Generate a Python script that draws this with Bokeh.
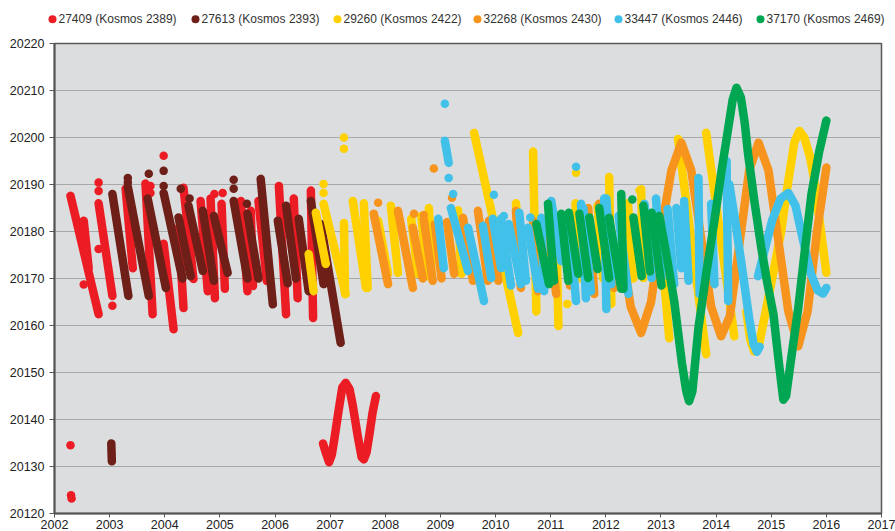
from bokeh.plotting import figure
from bokeh.layouts import column, row
from bokeh.models import Range1d, FixedTicker, ColumnDataSource
from bokeh.core.properties import value
from bokeh.embed import file_html
from bokeh.resources import INLINE

# ---------------- data ----------------
LABELS = ["27409 (Kosmos 2389)", "27613 (Kosmos 2393)", "29260 (Kosmos 2422)",
          "32268 (Kosmos 2430)", "33447 (Kosmos 2446)", "37170 (Kosmos 2469)"]
COLORS = ["#ec1c24", "#6d1f18", "#ffd100", "#f7941d", "#41c1e9", "#00a651"]

X_TICKS = list(range(2002, 2018))
Y_TICKS = list(range(20120, 20221, 10))

# streaks: (year start, value start, year end, value end)
red_streaks = [
    (2002.29, 20187.6, 2002.80, 20162.4), (2002.53, 20182.3, 2002.62, 20172.2),
    (2002.80, 20186.0, 2003.05, 20166.3), (2003.29, 20189.1, 2003.42, 20172.2),
    (2003.65, 20190.2, 2003.78, 20162.4), (2003.98, 20177.4, 2004.16, 20159.2),
    (2004.25, 20180.8, 2004.34, 20163.7), (2004.34, 20189.3, 2004.52, 20169.9),
    (2004.65, 20186.5, 2004.78, 20167.3), (2004.83, 20187.0, 2004.91, 20165.8),
    (2005.03, 20185.9, 2005.09, 20167.8), (2005.38, 20186.5, 2005.50, 20167.3),
    (2005.56, 20184.4, 2005.60, 20168.4), (2005.70, 20186.5, 2005.85, 20169.5),
    (2006.07, 20189.7, 2006.20, 20162.4), (2006.34, 20187.0, 2006.41, 20165.8),
    (2006.65, 20188.7, 2006.69, 20161.6),
]
red_wave_t = [2006.87, 2006.92, 2006.98, 2007.03, 2007.07, 2007.16, 2007.22, 2007.28, 2007.35,
              2007.41, 2007.50, 2007.57, 2007.61, 2007.66, 2007.72, 2007.77, 2007.83]
red_wave_v = [20134.9, 20133.0, 20130.9, 20132.5, 20135.4, 20142.4, 20146.8, 20147.8, 20146.5,
              20143.0, 20136.5, 20132.0, 20131.5, 20133.0, 20137.5, 20141.5, 20145.0]
red_dots_t = [2002.29, 2002.30, 2002.31, 2002.53, 2002.80, 2002.80, 2002.80, 2003.05,
              2003.74, 2003.74, 2003.98, 2005.05, 2004.90]
red_dots_v = [20134.5, 20123.9, 20123.2, 20168.7, 20190.4, 20188.6, 20176.3, 20164.2,
              20189.7, 20188.2, 20196.1, 20188.2, 20188.0]

brown_streaks = [
    (2003.05, 20188.0, 2003.34, 20166.3), (2003.33, 20189.5, 2003.71, 20166.3),
    (2003.69, 20187.0, 2004.02, 20168.0), (2003.98, 20188.2, 2004.32, 20170.0),
    (2004.25, 20183.0, 2004.47, 20170.5), (2004.43, 20185.5, 2004.69, 20171.6),
    (2004.69, 20184.4, 2004.89, 20169.5), (2004.89, 20183.3, 2005.14, 20171.2),
    (2005.25, 20186.5, 2005.50, 20170.0), (2005.50, 20183.8, 2005.70, 20170.0),
    (2005.74, 20191.2, 2005.96, 20164.5), (2006.05, 20182.3, 2006.23, 20169.0),
    (2006.20, 20185.5, 2006.38, 20170.0), (2006.43, 20182.7, 2006.61, 20167.3),
    (2006.65, 20186.5, 2006.88, 20168.8), (2006.83, 20181.6, 2007.19, 20156.3),
    (2003.03, 20134.9, 2003.04, 20131.1),
]
brown_dots_t = [2003.33, 2003.33, 2003.71, 2003.98, 2003.98, 2004.29, 2004.45, 2005.25, 2005.25, 2005.49]
brown_dots_v = [20191.4, 20190.4, 20192.3, 20192.9, 20189.7, 20189.1, 20187.0, 20191.0, 20189.1, 20185.9]

yellow_streaks = [
    (2006.61, 20175.2, 2006.70, 20167.3), (2006.74, 20184.0, 2006.92, 20173.1),
    (2006.88, 20185.9, 2007.28, 20166.7), (2007.25, 20181.8, 2007.27, 20166.7),
    (2007.41, 20186.5, 2007.65, 20168.0), (2007.61, 20186.0, 2007.68, 20168.0),
    (2007.87, 20182.3, 2008.05, 20171.0), (2008.10, 20185.5, 2008.23, 20171.2),
    (2008.47, 20182.7, 2008.59, 20171.0), (2008.65, 20183.3, 2008.77, 20170.5),
    (2008.79, 20185.0, 2008.84, 20170.1), (2009.32, 20184.5, 2009.38, 20171.0),
    (2009.61, 20201.0, 2010.41, 20158.4), (2010.37, 20186.0, 2010.46, 20172.0),
    (2010.68, 20197.0, 2010.74, 20163.0), (2011.10, 20180.8, 2011.14, 20159.9),
    (2011.45, 20186.0, 2011.55, 20170.0), (2011.85, 20185.5, 2011.95, 20170.0),
    (2012.06, 20191.6, 2012.10, 20164.6), (2012.40, 20186.0, 2012.50, 20170.0),
    (2012.64, 20189.0, 2012.68, 20170.1), (2013.04, 20172.0, 2013.15, 20157.3),
    (2013.31, 20199.7, 2013.82, 20153.9), (2013.82, 20201.0, 2014.33, 20157.7),
]
yellow_wave_t = [2014.55, 2014.62, 2014.69, 2014.78, 2014.90, 2015.05, 2015.18, 2015.30,
                 2015.42, 2015.51, 2015.60, 2015.70, 2015.78, 2015.88, 2016.00]
yellow_wave_v = [20163.0, 20157.0, 20154.5, 20156.0, 20163.0, 20172.0, 20180.0, 20190.0,
                 20199.0, 20201.4, 20200.0, 20196.0, 20191.0, 20182.0, 20171.2]
yellow_dots_t = [2007.25, 2007.25, 2006.88, 2006.88, 2011.30, 2011.46, 2012.61]
yellow_dots_v = [20200.0, 20197.6, 20190.1, 20188.2, 20164.6, 20192.5, 20188.7]

orange_streaks = [
    (2007.79, 20183.8, 2008.05, 20168.8), (2008.23, 20184.4, 2008.50, 20168.0),
    (2008.50, 20180.8, 2008.68, 20170.0), (2008.70, 20182.5, 2008.86, 20169.5),
    (2008.90, 20181.5, 2009.02, 20170.0), (2009.12, 20182.0, 2009.25, 20171.0),
    (2009.41, 20182.9, 2009.59, 20169.5), (2009.68, 20184.4, 2009.86, 20169.5),
    (2009.88, 20182.3, 2010.05, 20169.5), (2010.37, 20184.4, 2010.46, 20168.0),
    (2010.68, 20182.3, 2010.77, 20167.3), (2010.95, 20180.8, 2011.10, 20166.7),
    (2011.25, 20183.0, 2011.35, 20168.5), (2011.68, 20185.0, 2011.79, 20166.7),
    (2011.88, 20185.9, 2012.00, 20177.4), (2012.05, 20183.5, 2012.15, 20168.0),
]
orange_wave_t = [2012.30, 2012.45, 2012.64, 2012.82, 2013.00, 2013.19, 2013.37, 2013.55, 2013.73,
                 2013.91, 2014.09, 2014.25, 2014.43, 2014.60, 2014.77, 2014.95, 2015.13, 2015.31,
                 2015.49, 2015.66, 2015.83, 2016.00]
orange_wave_v = [20176.0, 20164.0, 20158.4, 20165.0, 20180.0, 20193.0, 20198.9, 20193.0, 20178.5,
                 20164.0, 20157.7, 20162.0, 20178.0, 20193.0, 20198.9, 20193.0, 20178.0, 20163.0,
                 20155.6, 20163.0, 20180.0, 20193.6]
orange_dots_t = [2007.87, 2008.52, 2008.70, 2008.88, 2009.21]
orange_dots_v = [20186.1, 20183.8, 20183.5, 20193.4, 20187.2]

cyan_streaks = [
    (2009.08, 20199.3, 2009.15, 20194.6), (2008.96, 20182.7, 2009.06, 20172.2),
    (2009.19, 20185.0, 2009.50, 20171.6), (2009.50, 20180.8, 2009.79, 20165.2),
    (2009.77, 20181.2, 2009.92, 20170.1), (2009.95, 20182.7, 2010.10, 20172.2),
    (2010.10, 20182.7, 2010.28, 20168.5), (2010.24, 20181.6, 2010.46, 20168.8),
    (2010.43, 20184.0, 2010.55, 20169.5), (2010.59, 20180.8, 2010.77, 20167.8),
    (2010.83, 20182.9, 2010.88, 20167.3), (2011.01, 20186.5, 2011.19, 20173.7),
    (2011.32, 20183.8, 2011.46, 20165.2), (2011.55, 20185.9, 2011.64, 20165.8),
    (2011.59, 20185.0, 2011.73, 20167.3), (2011.97, 20187.0, 2012.01, 20163.5),
    (2012.01, 20187.0, 2012.10, 20168.8), (2012.23, 20183.3, 2012.41, 20166.7),
    (2012.70, 20185.9, 2012.83, 20170.1), (2012.91, 20187.0, 2013.01, 20170.1),
    (2013.12, 20184.8, 2013.24, 20168.8), (2013.28, 20185.0, 2013.37, 20172.2),
    (2013.42, 20186.5, 2013.50, 20169.5), (2013.68, 20191.4, 2013.70, 20166.7),
    (2013.91, 20185.9, 2013.97, 20168.8), (2014.19, 20195.0, 2014.22, 20165.2),
]
cyan_wave1_t = [2014.24, 2014.35, 2014.48, 2014.60, 2014.68, 2014.74, 2014.79]
cyan_wave1_v = [20190.0, 20182.0, 20171.5, 20161.5, 20156.0, 20154.4, 20155.5]
cyan_wave2_t = [2014.76, 2014.88, 2015.02, 2015.17, 2015.31, 2015.44, 2015.58, 2015.72,
                2015.84, 2015.94, 2016.00]
cyan_wave2_v = [20170.5, 20176.0, 20182.5, 20187.0, 20188.2, 20185.5, 20178.0, 20171.0,
                20167.5, 20166.8, 20168.0]
cyan_dots_t = [2009.08, 2009.15, 2009.23, 2009.97, 2010.15, 2010.63, 2011.46]
cyan_dots_v = [20207.2, 20191.4, 20188.0, 20187.8, 20183.3, 20183.0, 20193.8]

green_streaks = [
    (2010.74, 20181.6, 2010.97, 20168.8), (2010.95, 20185.9, 2011.06, 20169.5),
    (2011.19, 20183.8, 2011.32, 20169.5), (2011.33, 20184.0, 2011.50, 20171.0),
    (2011.52, 20183.8, 2011.68, 20170.1), (2011.70, 20183.0, 2011.85, 20172.0),
    (2011.88, 20185.0, 2012.06, 20170.1), (2012.06, 20182.9, 2012.28, 20167.8),
    (2012.28, 20188.0, 2012.32, 20167.8), (2012.50, 20183.0, 2012.65, 20170.5),
    (2012.68, 20185.5, 2012.80, 20171.5), (2012.83, 20184.0, 2013.01, 20168.5),
]
green_wave_t = [2012.97, 2013.10, 2013.24, 2013.38, 2013.46, 2013.51, 2013.57, 2013.68, 2013.82,
                2013.97, 2014.10, 2014.22, 2014.30, 2014.37, 2014.45, 2014.52, 2014.58, 2014.70,
                2014.82, 2014.93, 2015.04, 2015.12, 2015.18, 2015.22, 2015.27, 2015.35, 2015.49,
                2015.62, 2015.73, 2015.87, 2016.00]
green_wave_v = [20183.3, 20175.0, 20165.2, 20152.0, 20146.0, 20143.9, 20146.0, 20159.5, 20171.0,
                20182.3, 20193.0, 20202.0, 20208.0, 20210.6, 20208.5, 20203.0, 20196.5, 20186.0,
                20176.5, 20169.0, 20162.4, 20154.0, 20148.0, 20144.2, 20145.0, 20152.0, 20163.7,
                20177.0, 20188.0, 20197.0, 20203.6]
green_dots_t = [2012.48]
green_dots_v = [20186.8]

SERIES = [
    (red_streaks, [(red_wave_t, red_wave_v)], red_dots_t, red_dots_v),
    (brown_streaks, [], brown_dots_t, brown_dots_v),
    (yellow_streaks, [(yellow_wave_t, yellow_wave_v)], yellow_dots_t, yellow_dots_v),
    (orange_streaks, [(orange_wave_t, orange_wave_v)], orange_dots_t, orange_dots_v),
    (cyan_streaks, [(cyan_wave1_t, cyan_wave1_v), (cyan_wave2_t, cyan_wave2_v)], cyan_dots_t, cyan_dots_v),
    (green_streaks, [(green_wave_t, green_wave_v)], green_dots_t, green_dots_v),
]

# ---------------- layout constants ----------------
FONT = "Liberation Sans"
W = 895
LEG_H = 38
MAIN_H = 493
LEGEND_X = [52, 195, 337, 477, 618, 760]   # legend marker centres, in px
LEGEND_Y = LEG_H - 18.7

# ---------------- legend strip ----------------
leg = figure(width=W, height=LEG_H, output_backend="svg", toolbar_location=None,
             x_range=Range1d(0, W), y_range=Range1d(0, LEG_H),
             min_border=0, x_axis_type=None, y_axis_type=None)
leg.outline_line_color = None
leg.grid.grid_line_color = None
leg.background_fill_color = "white"
leg_src = ColumnDataSource(dict(x=LEGEND_X, y=[LEGEND_Y] * len(LABELS), c=COLORS,
                                tx=[x + 6 for x in LEGEND_X], label=LABELS))
leg.scatter(x="x", y="y", size=8, fill_color="c", line_color=None, source=leg_src)
leg.text(x="tx", y="y", text="label", source=leg_src, text_baseline="middle", text_align="left",
         text_font=value(FONT), text_font_size="12px", text_color="#333333")

# ---------------- main chart ----------------
p = figure(width=W, height=MAIN_H, output_backend="svg", toolbar_location=None,
           x_range=Range1d(2002, 2017), y_range=Range1d(20120, 20220),
           min_border_left=54, min_border_right=14, min_border_top=5, min_border_bottom=0)

p.background_fill_color = "#dcdddf"
p.border_fill_color = "white"
p.outline_line_color = "#5a5a5a"
p.outline_line_width = 1.5

p.xgrid.grid_line_color = None
p.ygrid.grid_line_color = "#a8a8a8"
p.ygrid.grid_line_width = 1

p.xaxis.ticker = FixedTicker(ticks=X_TICKS)
p.yaxis.ticker = FixedTicker(ticks=Y_TICKS)
for ax in (p.xaxis[0], p.yaxis[0]):
    ax.axis_line_color = "#555555"
    ax.axis_line_width = 2
    ax.major_tick_line_color = "#555555"
    ax.major_tick_in = 0
    ax.minor_tick_line_color = None
    ax.major_label_text_font = FONT
    ax.major_label_text_font_size = "12.5px"
    ax.major_label_text_color = "#222222"
p.xaxis.major_tick_out = 4
p.xaxis.major_label_standoff = 2
p.yaxis.major_tick_out = 5
p.yaxis.major_label_standoff = 5

LW = 8.5
for (streaks, waves, dt, dv), color in zip(SERIES, COLORS):
    if streaks:
        x0, y0, x1, y1 = (list(c) for c in zip(*streaks))
        src = ColumnDataSource(dict(x0=x0, y0=y0, x1=x1, y1=y1))
        p.segment(x0="x0", y0="y0", x1="x1", y1="y1", source=src, line_color=color,
                  line_width=LW, line_cap="round")
    for wt, wv in waves:
        p.line(wt, wv, line_color=color, line_width=LW, line_cap="round", line_join="round")
    p.scatter(dt, dv, size=8.5, fill_color=color, line_color=None)

layout = column(row(leg), row(p), spacing=0)
open("out.html", "w").write(file_html(layout, INLINE))
